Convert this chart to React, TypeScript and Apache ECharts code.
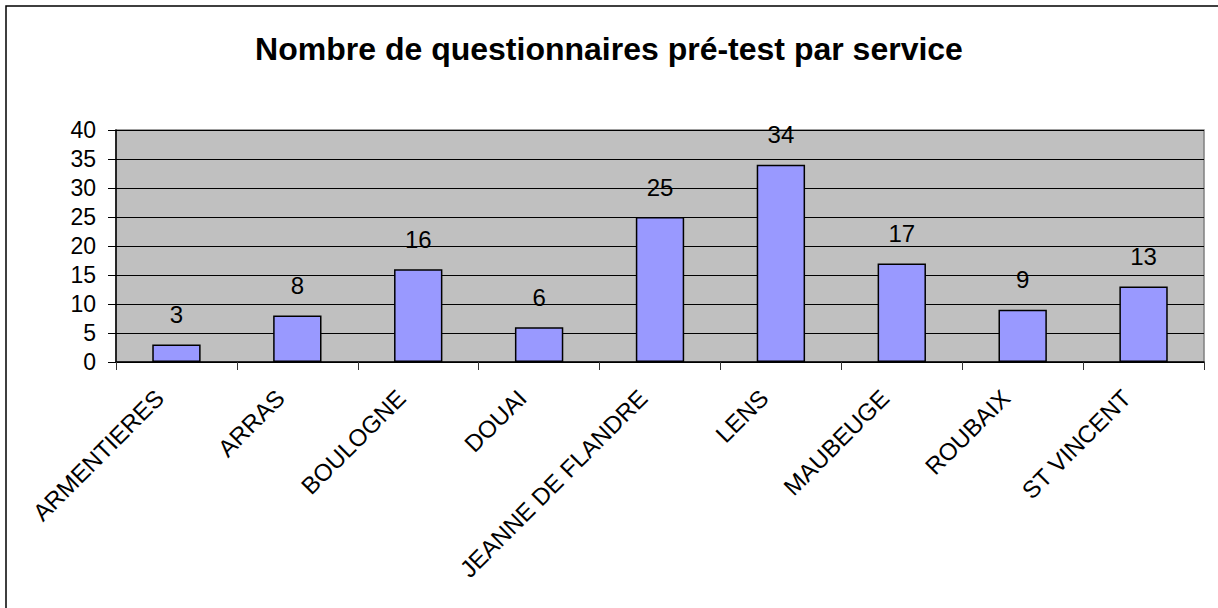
import React, { useEffect, useRef } from "react";
import * as echarts from "echarts";

const categories = [
  "ARMENTIERES",
  "ARRAS",
  "BOULOGNE",
  "DOUAI",
  "JEANNE DE FLANDRE",
  "LENS",
  "MAUBEUGE",
  "ROUBAIX",
  "ST VINCENT",
];
const values = [3, 8, 16, 6, 25, 34, 17, 9, 13];
const titleText = "Nombre de questionnaires pré-test par service";

const FONT = "'Liberation Sans', Arial, sans-serif";

export default function App() {
  const ref = useRef<HTMLDivElement>(null);
  useEffect(() => {
    document.body.style.margin = "0";
    const chart = echarts.init(ref.current!, null, { renderer: "svg" });
    chart.setOption({
      animation: false,
      backgroundColor: "#ffffff",
      title: {
        text: titleText,
        left: "center",
        top: 28,
        textStyle: { fontFamily: FONT, fontWeight: "bold", fontSize: 32, color: "#000" },
      },
      graphic: [
        {
          type: "rect",
          shape: { x: 6, y: 6, width: 1400, height: 800 },
          style: { fill: "none", stroke: "#000", lineWidth: 1.5 },
          silent: true,
        },
      ],
      grid: {
        left: 116,
        right: 14,
        top: 130,
        bottom: 246,
        show: true,
        backgroundColor: "#C0C0C0",
        borderColor: "#808080",
        borderWidth: 1.5,
      },
      xAxis: {
        type: "category",
        data: categories,
        axisLine: { show: true, lineStyle: { color: "#000", width: 1.5 } },
        axisTick: { show: true, length: 8, lineStyle: { color: "#333", width: 1 } },
        axisLabel: {
          rotate: 45,
          margin: 15,
          interval: 0,
          padding: [0, 24, 0, 0],
          fontFamily: FONT,
          fontSize: 24,
          color: "#000",
        },
      },
      yAxis: {
        type: "value",
        min: 0,
        max: 40,
        interval: 5,
        axisLine: { show: true, lineStyle: { color: "#000", width: 1.5 } },
        axisTick: { show: true, length: 8, lineStyle: { color: "#000", width: 1 } },
        axisLabel: { margin: 20, fontFamily: FONT, fontSize: 23, color: "#000" },
        splitLine: { show: true, lineStyle: { color: "#000", width: 1 } },
      },
      series: [
        {
          type: "bar",
          data: values,
          barWidth: "40%",
          itemStyle: { color: "#9999FF", borderColor: "#000", borderWidth: 1.5 },
          label: {
            show: true,
            position: "top",
            distance: 18,
            fontFamily: FONT,
            fontSize: 24,
            color: "#000",
          },
        },
      ],
    });
    return () => chart.dispose();
  }, []);
  return <div ref={ref} style={{ width: 1218, height: 608 }} />;
}
